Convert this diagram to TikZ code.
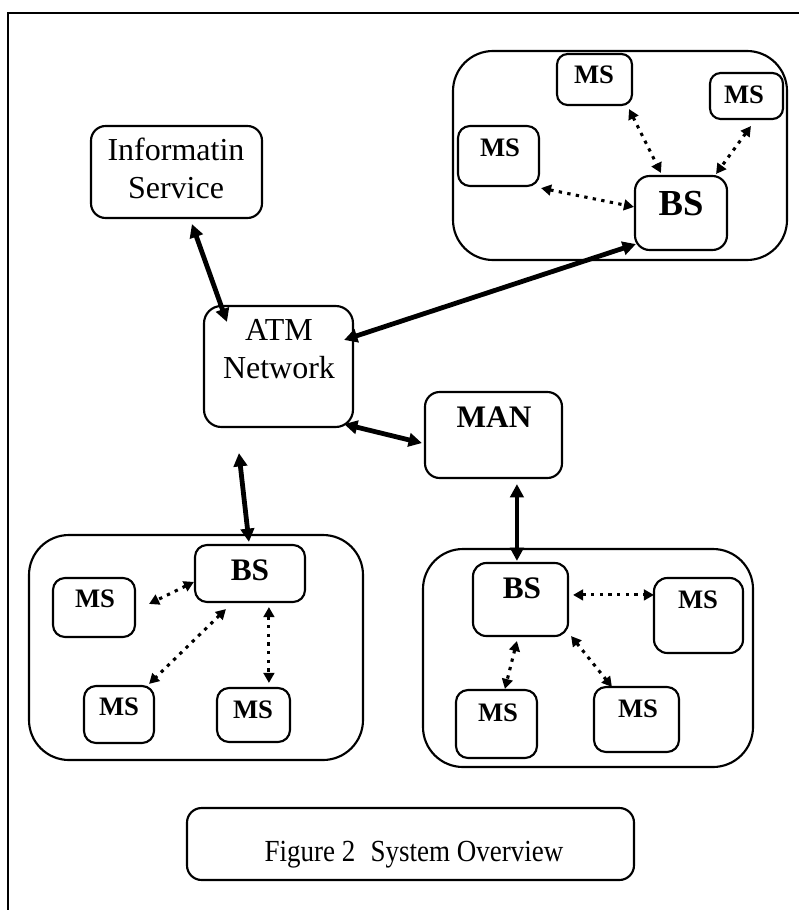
\documentclass[tikz,border=0pt]{standalone}
\usepackage{fontspec}
\setmainfont{Liberation Serif}
\newfontfamily\capfont[FakeStretch=0.88]{Liberation Serif}
\usetikzlibrary{arrows.meta,fit,calc}
\begin{document}
\begin{tikzpicture}[x=0.75pt,y=-0.75pt,
  box/.style={draw,line width=1.6pt,inner sep=0pt,rounded corners=#1},
  box/.default=10pt,
  bigarrow/.style={line width=3.6pt,{Triangle[length=10pt,width=10pt]}-{Triangle[length=10pt,width=10pt]}},
  dotarrow/.style={line width=2.3pt,dash pattern=on 2.5pt off 4pt,{Triangle[length=7.5pt,width=8pt]}-{Triangle[length=7.5pt,width=8pt]}},
  txt/.style={font=\fontsize{24}{28.5}\selectfont,inner sep=0pt,align=center},
  mslabel/.style={font=\fontsize{20}{24}\selectfont\bfseries,anchor=base,inner sep=0pt},
  bslabel/.style={font=\fontsize{23.5}{28}\selectfont\bfseries,anchor=base,inner sep=0pt},
]
\useasboundingbox (0,0) rectangle (799,910);
% outer frame (left and top edges only)
\draw[line width=2pt] (8,910) -- (8,13) -- (799,13);

% ---- boxes ----
\node[box=11pt,fit={(91,126)(262,218)}] (info) {};
\node[box=13pt,fit={(204,306)(353,427)}] (atm) {};
\node[box=11pt,fit={(425,392)(562,478)}] (man) {};

% top-right group
\node[box=30pt,fit={(453,51)(787,260)}] (gTR) {};
\node[box=11pt,fit={(635,176)(727,250)}] (bsTR) {};
\node[box=8pt,fit={(557,54)(632,105)}] (msTRa) {};
\node[box=8pt,fit={(710,73)(783,119)}] (msTRb) {};
\node[box=9pt,fit={(458,126)(539,186)}] (msTRc) {};

% bottom-left group
\node[box=30pt,fit={(29,535)(363,760)}] (gBL) {};
\node[box=9pt,fit={(195,545)(305,602)}] (bsBL) {};
\node[box=9pt,fit={(53,578)(135,637)}] (msBLa) {};
\node[box=9pt,fit={(84,686)(154,743)}] (msBLb) {};
\node[box=9pt,fit={(217,688)(290,742)}] (msBLc) {};

% bottom-right group
\node[box=30pt,fit={(423,549)(753,767)}] (gBR) {};
\node[box=10pt,fit={(473,563)(568,636)}] (bsBR) {};
\node[box=10pt,fit={(654,578)(743,653)}] (msBRa) {};
\node[box=9pt,fit={(456,690)(537,758)}] (msBRb) {};
\node[box=9pt,fit={(594,687)(679,752)}] (msBRc) {};

% caption box
\node[box=11pt,fit={(187,808)(634,880)}] (cap) {};

% ---- texts ----
\node[txt] (infoT) at (176,168) {Informatin\\Service};
\node[txt] (atmT) at (279,349) {ATM\\Network};
\node[bslabel] (manT) at (494,427) {MAN};
\node[bslabel,font=\fontsize{27.5}{32}\selectfont\bfseries] (bsTRT) at (681,215) {BS};
\node[mslabel] (msTRaT) at (594,83) {MS};
\node[mslabel] (msTRbT) at (744,103) {MS};
\node[mslabel] (msTRcT) at (500,156) {MS};
\node[bslabel] (bsBLT) at (250,580) {BS};
\node[mslabel] (msBLaT) at (95,607) {MS};
\node[mslabel] (msBLbT) at (119,715) {MS};
\node[mslabel] (msBLcT) at (253,718) {MS};
\node[bslabel] (bsBRT) at (522,598) {BS};
\node[mslabel] (msBRaT) at (698,608) {MS};
\node[mslabel] (msBRbT) at (498,721) {MS};
\node[mslabel] (msBRcT) at (638,717) {MS};
\node[txt,anchor=base,font=\capfont\fontsize{23}{27}\selectfont] (capT) at (414,861) {Figure 2\hspace{0.5em}System Overview};

% ---- thick connectors ----
\draw[bigarrow] ($(info.south west)+(102,5)$) -- ($(atm.north west)+(24,17)$);
\draw[bigarrow] ($(atm.north east)+(-10,35)$) -- ($(bsTR.south west)+(2,-7)$);
\draw[bigarrow] ($(atm.south east)+(-10,-4)$) -- ($(man.south west)+(-2,-36)$);
\draw[bigarrow] ($(atm.south west)+(36,25)$) -- ($(bsBL.north west)+(55,-2)$);
\draw[bigarrow] ($(man.south west)+(93,5)$) -- ($(bsBR.north west)+(45,-1)$);

% ---- dotted connectors ----
\draw[dotarrow] ($(msTRa.south east)+(-4,3)$) -- ($(bsTR.north west)+(27,-2)$);
\draw[dotarrow] ($(msTRb.south west)+(42,6)$) -- ($(bsTR.north east)+(-12,-1)$);
\draw[dotarrow] ($(msTRc.south east)+(1,1)$) -- ($(bsTR.north west)+(0,32)$);

\draw[dotarrow] ($(bsBL.north west)+(0,38)$) -- ($(msBLa.north east)+(13,27)$);
\draw[dotarrow] ($(bsBL.south west)+(32,6)$) -- ($(msBLb.north east)+(-6,-1)$);
\draw[dotarrow] ($(bsBL.south west)+(75,4)$) -- ($(msBLc.north west)+(53,-4)$);

\draw[dotarrow] ($(bsBR.north east)+(4,33)$) -- ($(msBRa.north west)+(1,18)$);
\draw[dotarrow] ($(bsBR.south west)+(45,4)$) -- ($(msBRb.north west)+(50,0)$);
\draw[dotarrow] ($(bsBR.south east)+(2,-1)$) -- ($(msBRc.north west)+(19,1)$);
\end{tikzpicture}
\end{document}
